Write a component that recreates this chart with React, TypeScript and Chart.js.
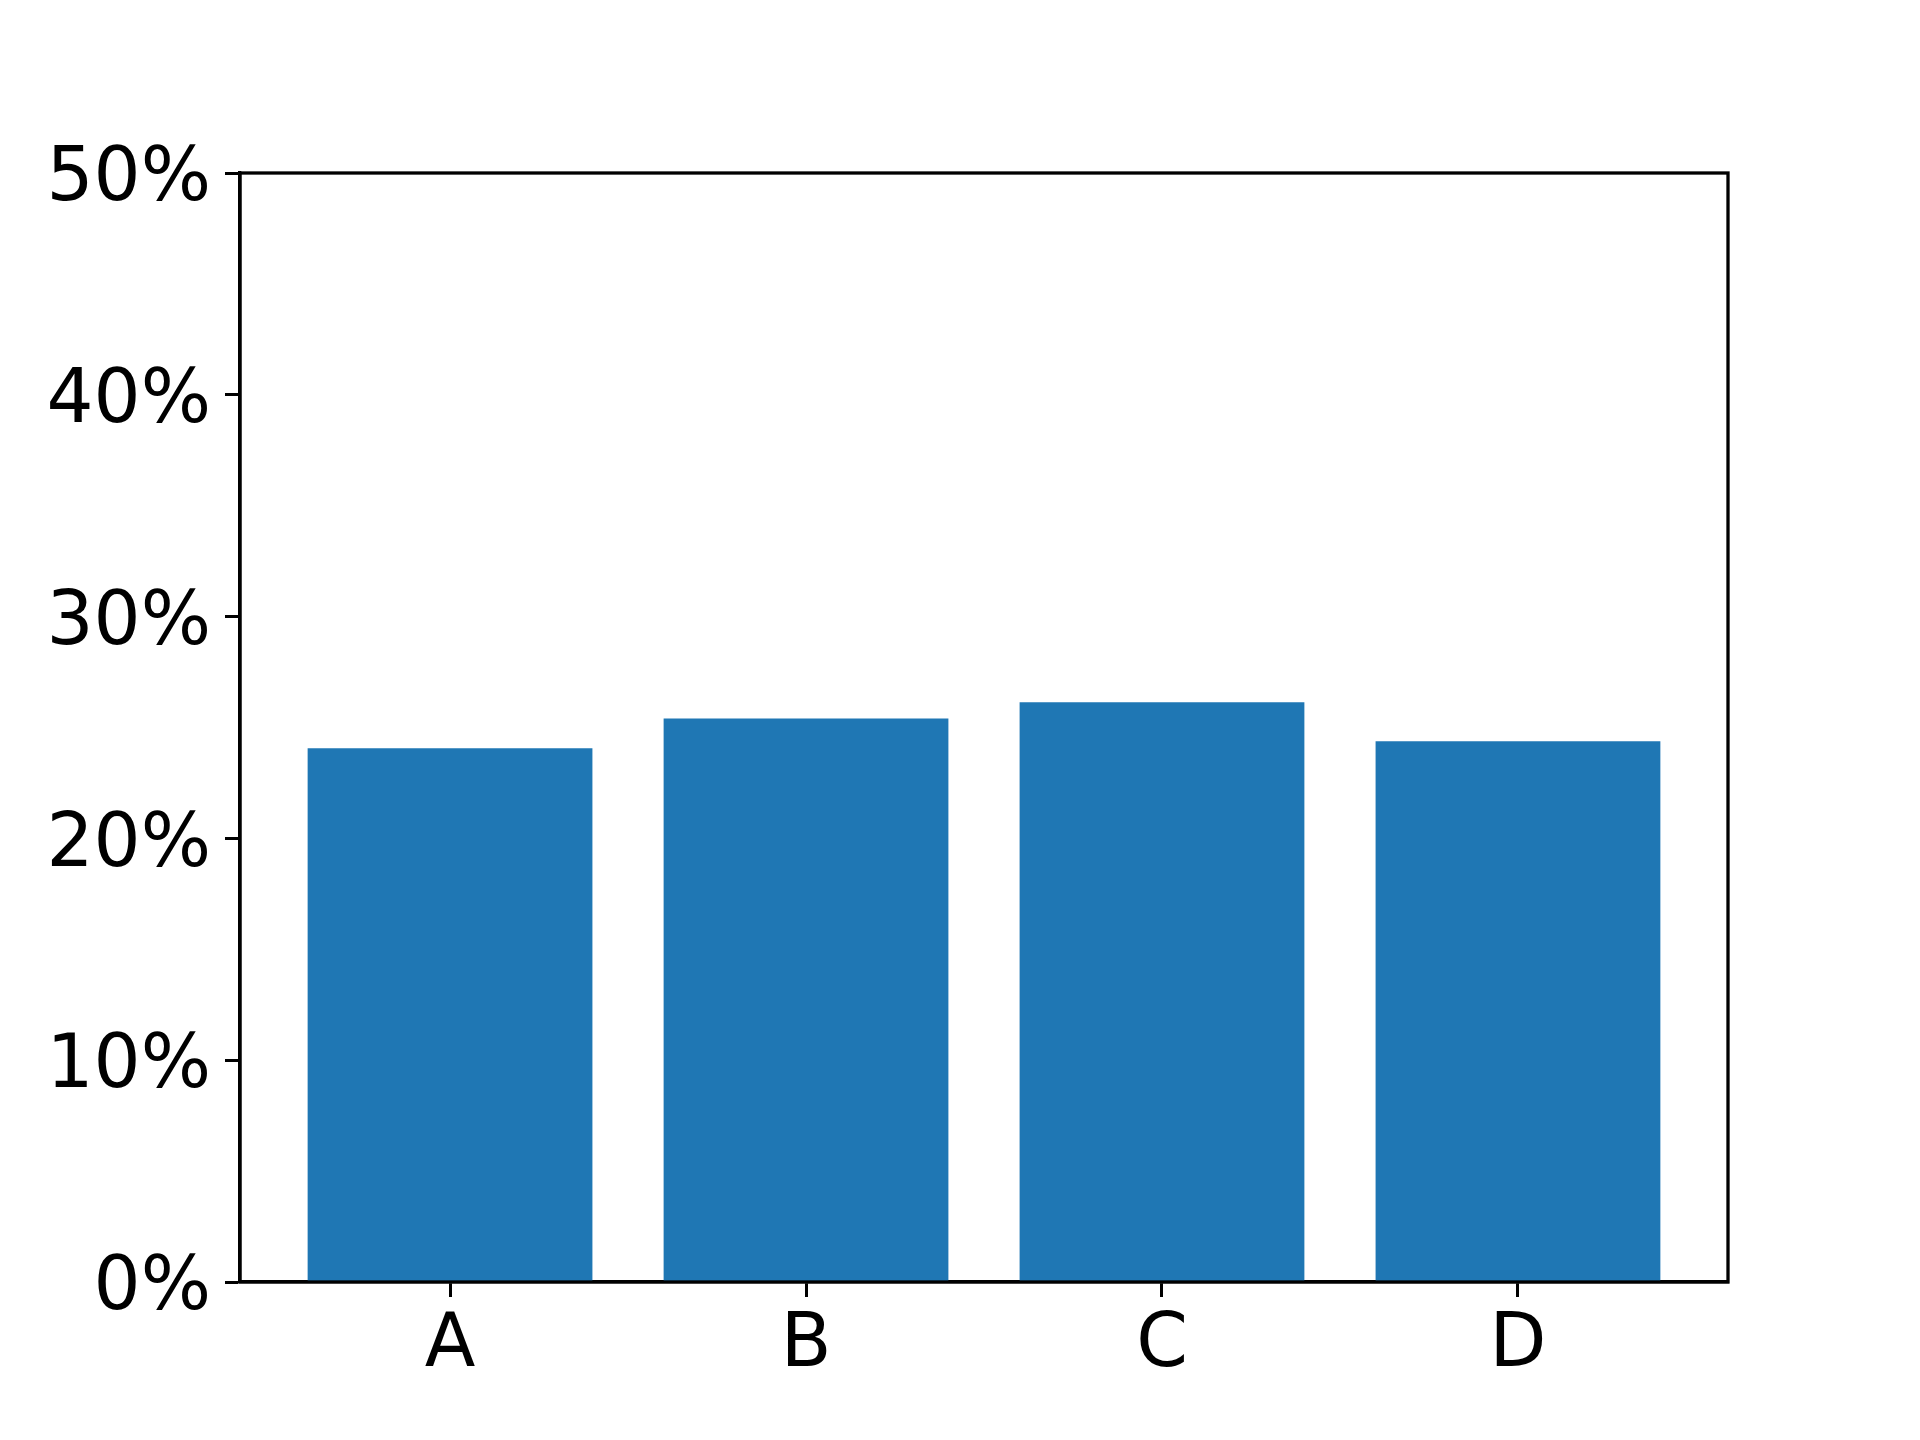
import React, { useEffect, useRef } from "react";
import { Chart, registerables } from "chart.js";

Chart.register(...registerables);

const categories = ["A", "B", "C", "D"];
const values = [24.06, 25.41, 26.14, 24.38];
const yTicks = [0, 10, 20, 30, 40, 50];

const FONT = "'DejaVu Sans', sans-serif";

export default function App() {
  const ref = useRef<HTMLCanvasElement | null>(null);

  useEffect(() => {
    document.body.style.margin = "0";
    const canvas = ref.current!;
    const boxPlugin = {
      id: "box",
      afterDatasetsDraw(chart: any) {
        const { ctx, chartArea } = chart;
        ctx.save();
        ctx.strokeStyle = "#000";
        ctx.lineWidth = 3.3;
        ctx.strokeRect(chartArea.left, chartArea.top, chartArea.right - chartArea.left, chartArea.bottom - chartArea.top);
        ctx.restore();
      },
    };
    const chart = new Chart(canvas, {
      type: "bar",
      data: {
        datasets: [
          {
            data: values.map((v, i) => ({ x: i, y: v })),
            backgroundColor: "#1f77b4",
            borderWidth: 0,
            categoryPercentage: 1,
            barPercentage: 0.8,
          },
        ],
      },
      options: {
        responsive: false,
        animation: false,
        events: [],
        layout: { padding: { left: 0, right: 192, top: 173, bottom: 0 } },
        plugins: { legend: { display: false }, tooltip: { enabled: false } },
        scales: {
          x: {
            type: "linear",
            min: -0.59,
            max: 3.59,
            offset: false,
            afterBuildTicks: (axis: any) => {
              axis.ticks = categories.map((_, i) => ({ value: i }));
            },
            afterFit: (axis: any) => {
              axis.height = 158;
            },
            ticks: {
              autoSkip: false,
              maxRotation: 0,
              padding: 5,
              color: "#000",
              font: { family: FONT, size: 74 },
              callback: (v: any) => categories[Math.round(Number(v))] ?? "",
            },
            grid: {
              display: true,
              offset: false,
              drawOnChartArea: false,
              drawTicks: true,
              tickLength: 15,
              tickWidth: 3,
              tickColor: "#000",
            },
            border: { display: true, color: "#000", width: 3.3 },
          },
          y: {
            min: 0,
            max: 50,
            afterBuildTicks: (axis: any) => {
              axis.ticks = yTicks.map((v) => ({ value: v }));
            },
            afterFit: (axis: any) => {
              axis.width = 240;
            },
            ticks: {
              padding: 14,
              labelOffset: 8,
              color: "#000",
              font: { family: FONT, size: 74 },
              callback: (v: any) => `${v}%`,
            },
            grid: {
              display: true,
              drawOnChartArea: false,
              drawTicks: true,
              tickLength: 15,
              tickWidth: 3,
              tickColor: "#000",
            },
            border: { display: true, color: "#000", width: 3.3 },
          },
        },
      },
      plugins: [boxPlugin],
    } as any);
    return () => chart.destroy();
  }, []);

  return (
    <div style={{ width: 1920, height: 1440, background: "#fff" }}>
      <canvas ref={ref} width={1920} height={1440} style={{ display: "block" }} />
    </div>
  );
}
